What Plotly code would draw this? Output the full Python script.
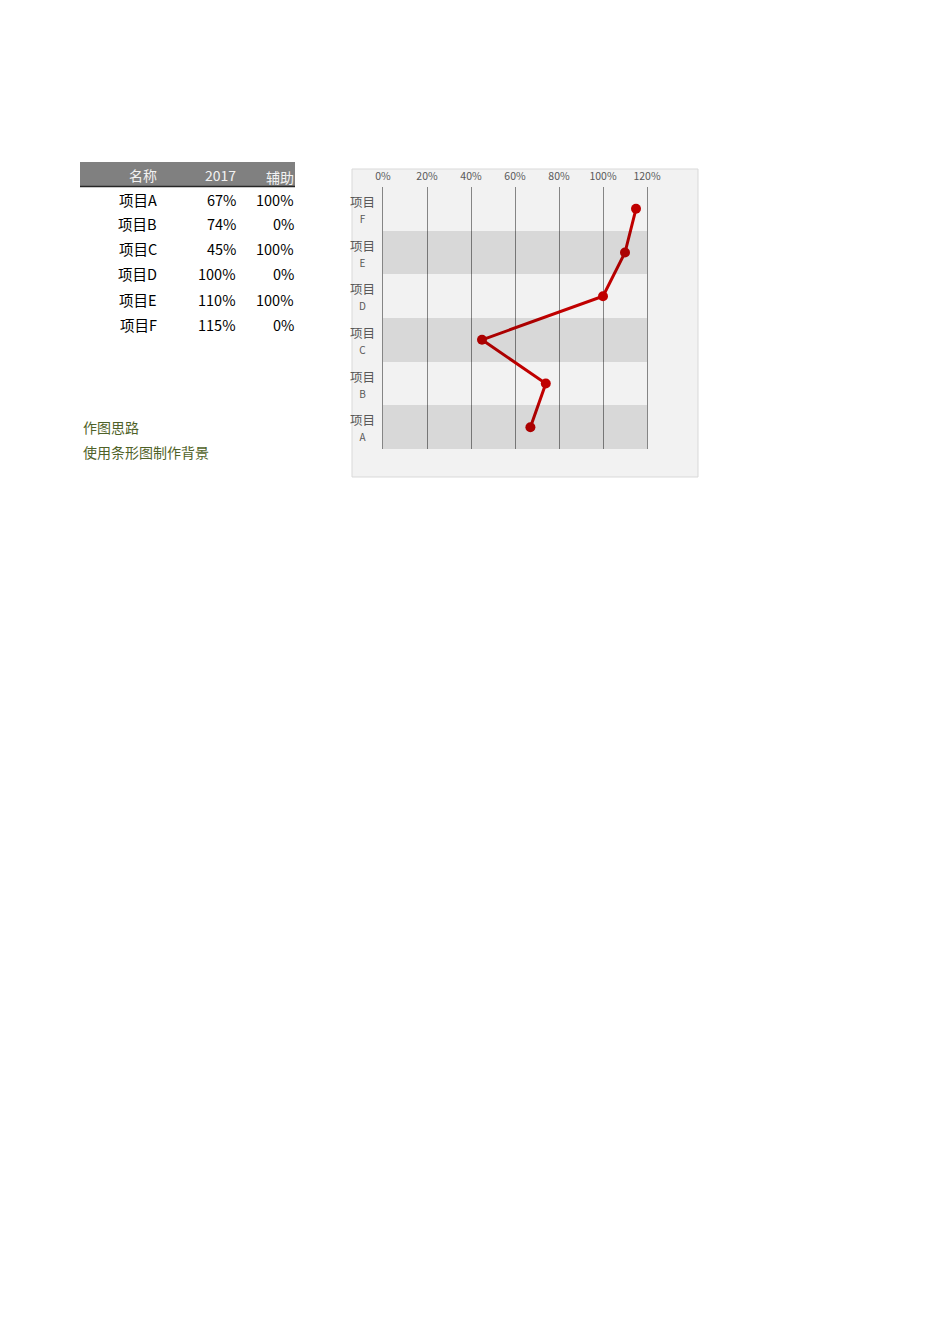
import plotly.graph_objects as go

# ---- data ----
names = ["项目A", "项目B", "项目C", "项目D", "项目E", "项目F"]
values_2017 = [0.67, 0.74, 0.45, 1.00, 1.10, 1.15]
helper = [1.0, 0.0, 1.0, 0.0, 1.0, 0.0]
headers = ["名称", "2017", "辅助"]
x_ticks = [0, 0.2, 0.4, 0.6, 0.8, 1.0, 1.2]
x_tick_labels = ["0%", "20%", "40%", "60%", "80%", "100%", "120%"]
y_tick_labels = ["项目<br><span style='font-size:10px'>A</span>",
                 "项目<br><span style='font-size:10px'>B</span>",
                 "项目<br><span style='font-size:10px'>C</span>",
                 "项目<br><span style='font-size:10px'>D</span>",
                 "项目<br><span style='font-size:10px'>E</span>",
                 "项目<br><span style='font-size:10px'>F</span>"]
notes = ["作图思路", "使用条形图制作背景"]

W, H = 950, 1344
OFF = 8  # page body margin
FONT = "Noto Sans CJK SC"


def px(x):
    return (x - OFF) / W


def py(y):
    return 1 - (y - OFF) / H


fig = go.Figure()

# background bands (bar chart on secondary axis)
fig.add_trace(go.Bar(
    y=names, x=helper, orientation="h", xaxis="x2", yaxis="y",
    marker=dict(color="rgba(0,0,0,0.105)", line=dict(width=0)),
    hoverinfo="skip", showlegend=False,
))

# the line
fig.add_trace(go.Scatter(
    y=names, x=values_2017, mode="lines+markers", xaxis="x", yaxis="y",
    line=dict(color="#c00000", width=3),
    marker=dict(color="#c00000", size=10),
    showlegend=False,
))

dom_x = [px(383), px(647)]
dom_y = [py(449), py(187)]

fig.update_layout(
    width=W, height=H, autosize=False,
    margin=dict(l=0, r=0, t=0, b=0, pad=0, autoexpand=False),
    paper_bgcolor="white",
    plot_bgcolor="#f2f2f2",
    bargap=0,
    font=dict(family=FONT, color="#595959"),
    xaxis=dict(
        domain=dom_x, range=[0, 1.2], side="top", anchor="y",
        tickvals=x_ticks, ticktext=x_tick_labels, automargin=False,
        tickfont=dict(size=10.5, color="#595959"),
        showgrid=True, gridcolor="#858585", gridwidth=1.3,
        zeroline=False, showline=False, ticks="", ticklabelstandoff=4,
        fixedrange=True,
    ),
    xaxis2=dict(
        domain=dom_x, range=[0, 1], overlaying="x", anchor="y", automargin=False,
        visible=False, showgrid=False, fixedrange=True,
    ),
    yaxis=dict(
        domain=dom_y, type="category", categoryorder="array", categoryarray=names,
        range=[-0.5, 5.5], automargin=False,
        showticklabels=False,
        showgrid=False, zeroline=False,
        showline=True, mirror=True, linecolor="#858585", linewidth=1.3,
        ticks="", fixedrange=True,
    ),
)

shapes = []
# chart area frame
shapes.append(dict(type="rect", xref="paper", yref="paper",
                   x0=px(352), x1=px(698), y0=py(477), y1=py(169),
                   fillcolor="#f2f2f2", line=dict(color="#d9d9d9", width=1),
                   layer="below"))
# table header
shapes.append(dict(type="rect", xref="paper", yref="paper",
                   x0=px(80), x1=px(295), y0=py(186), y1=py(162),
                   fillcolor="#808080", line=dict(width=0), layer="below"))
shapes.append(dict(type="line", xref="paper", yref="paper",
                   x0=px(80), x1=px(295), y0=py(186.5), y1=py(186.5),
                   line=dict(color="#262626", width=1.5)))
fig.update_layout(shapes=shapes)

ann = []
# category labels, centred multi-line
for n, lab in zip(names, y_tick_labels):
    ann.append(dict(text=lab, x=px(362), y=n, xref="paper", yref="y",
                    xanchor="center", yanchor="middle", align="center",
                    showarrow=False,
                    font=dict(size=12.5, color="#595959", family=FONT)))

col_right = [158, 237, 295]
header_y = [175, 175, 177]
for h, xr, yy in zip(headers, col_right, header_y):
    ann.append(dict(text=h, x=px(xr + 1), y=py(yy), xref="paper", yref="paper",
                    xanchor="right", yanchor="middle", showarrow=False,
                    font=dict(size=14, color="#f2f2f2", family=FONT)))
for i, (n, v, hp) in enumerate(zip(names, values_2017, helper)):
    yy = 199 + 25 * i
    cells = [n, f"{round(v * 100)}%", f"{round(hp * 100)}%"]
    for c, xr in zip(cells, col_right):
        ann.append(dict(text=c, x=px(xr + 1), y=py(yy), xref="paper", yref="paper",
                        xanchor="right", yanchor="middle", showarrow=False,
                        font=dict(size=14.5, color="#000000", family=FONT)))
for i, t in enumerate(notes):
    ann.append(dict(text=t, x=px(81), y=py(427 + 25 * i), xref="paper", yref="paper",
                    xanchor="left", yanchor="middle", showarrow=False,
                    font=dict(size=14, color="#4f6228", family=FONT)))
fig.update_layout(annotations=ann)

fig.write_html("out.html")
